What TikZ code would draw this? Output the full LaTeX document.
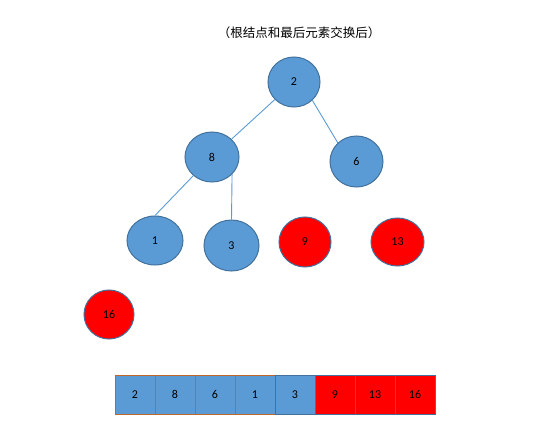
\documentclass[tikz,border=0pt]{standalone}
\usepackage{fontspec}
\setmainfont{Carlito}
\newfontfamily\cjk{Noto Sans CJK SC}
\usetikzlibrary{shapes.geometric}
\definecolor{nodeblue}{HTML}{5B9BD5}
\definecolor{edgeblue}{HTML}{41719C}
\definecolor{cellorange}{HTML}{C0662A}
\tikzset{
  hnode/.style={ellipse, draw=edgeblue, line width=1pt, inner sep=0pt, font=\fontsize{12}{14}\selectfont},
  bluenode/.style={hnode, fill=nodeblue},
  rednode/.style={hnode, fill=red},
  link/.style={draw=nodeblue, line width=0.9pt},
  cellbox/.style={rectangle, minimum width=40pt, minimum height=39pt, inner sep=0pt, line width=1pt, font=\fontsize{12}{14}\selectfont},
  bluecell/.style={cellbox, fill=nodeblue},
  redcell/.style={cellbox, fill=red}
}
\begin{document}
\begin{tikzpicture}[x=1pt,y=-1pt]
\useasboundingbox (0,0) rectangle (547,447);
\node[font=\cjk\fontsize{12.5}{15}\selectfont] (title) at (299,33) {（根结点和最后元素交换后）};
% tree nodes
\node[bluenode, minimum width=52pt, minimum height=50pt] (n2) at (294,82) {2};
\node[bluenode, minimum width=54pt, minimum height=50pt] (n8) at (212,157) {8};
\node[bluenode, minimum width=53pt, minimum height=51pt] (n6) at (356.5,161.5) {6};
\node[bluenode, minimum width=56pt, minimum height=49pt] (n1) at (155,240.5) {1};
\node[bluenode, minimum width=55pt, minimum height=51pt] (n3) at (231.5,245.5) {3};
\node[rednode, minimum width=52pt, minimum height=50pt] (n9) at (305,242) {9};
\node[rednode, minimum width=53pt, minimum height=48pt] (n13) at (397.5,242) {13};
\node[rednode, minimum width=50pt, minimum height=49pt] (n16) at (109,314.5) {16};
% edges
\draw[link] (n2) -- (n8);
\draw[link] (n2.-45) -- (n6.135);
\draw[link] (n8.225) -- (n1.north);
\draw[link] (n8.-41) -- (n3.north);
% array
\node[bluecell, draw=cellorange] (c1) at (135,394.5) {2};
\node[bluecell, draw=cellorange] (c2) at (175,394.5) {8};
\node[bluecell, draw=cellorange] (c3) at (215,394.5) {6};
\node[bluecell, draw=cellorange] (c4) at (255,394.5) {1};
\node[bluecell, draw=edgeblue] (c5) at (295,394.5) {3};
\node[redcell, draw=edgeblue] (c6) at (335,394.5) {9};
\node[redcell, draw=edgeblue] (c7) at (375,394.5) {13};
\node[redcell, draw=edgeblue] (c8) at (415,394.5) {16};
\end{tikzpicture}
\end{document}
